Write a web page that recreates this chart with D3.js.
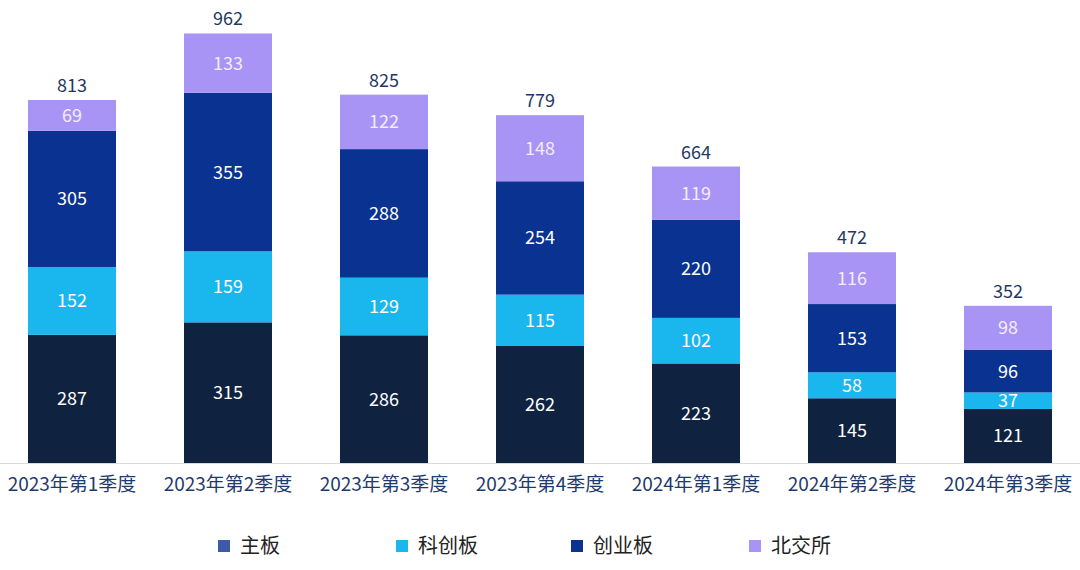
<!DOCTYPE html>
<html><head><meta charset="utf-8">
<script src="https://cdn.jsdelivr.net/npm/d3@7"></script>
<style>body{margin:0;background:#fff;}svg{display:block;font-family:"Noto Sans CJK SC","Noto Sans",sans-serif;}</style>
</head><body>
<svg id="c" width="1080" height="570"></svg>
<script>
const categories = ["2023年第1季度","2023年第2季度","2023年第3季度","2023年第4季度","2024年第1季度","2024年第2季度","2024年第3季度"];
const seriesNames = ["主板","科创板","创业板","北交所"];
const mainBoard = [287,315,286,262,223,145,121];
const star = [152,159,129,115,102,58,37];
const chinext = [305,355,288,254,220,153,96];
const bse = [69,133,122,148,119,116,98];
const totals = [813,962,825,779,664,472,352];

const barColors = ["#0f2340","#1ab6ee","#0a3290","#a894f4"];
const legendColors = ["#3d5aa8","#1ab6ee","#0a3290","#a894f4"];
const labelColors = ["#ffffff","#ffffff","#ffffff","#f3ecff"];

const svg = d3.select("#c");
const x = d3.scaleBand().domain(categories).range([-6,1086]).paddingInner(0.436).paddingOuter(0.218);
const y = d3.scaleLinear().domain([0,1000]).range([463,16.5]);

const data = categories.map((c,i)=>({cat:c,"主板":mainBoard[i],"科创板":star[i],"创业板":chinext[i],"北交所":bse[i]}));
const stacked = d3.stack().keys(seriesNames)(data);

stacked.forEach((s,si)=>{
  const g = svg.append("g");
  g.selectAll("rect").data(s).enter().append("rect")
    .attr("x",d=>x(d.data.cat)).attr("width",x.bandwidth())
    .attr("y",d=>y(d[1])).attr("height",d=>y(d[0])-y(d[1]))
    .attr("fill",barColors[si]);
  g.selectAll("text").data(s).enter().append("text")
    .attr("x",d=>x(d.data.cat)+x.bandwidth()/2)
    .attr("y",d=>(y(d[0])+y(d[1]))/2)
    .attr("dy","0.36em").attr("text-anchor","middle")
    .attr("font-size",18).attr("fill",labelColors[si])
    .text(d=>d[1]-d[0]);
});

svg.append("g").selectAll("text").data(categories).enter().append("text")
  .attr("x",c=>x(c)+x.bandwidth()/2)
  .attr("y",(c,i)=>y(totals[i])-8)
  .attr("text-anchor","middle").attr("font-size",18).attr("fill","#1f3864")
  .text((c,i)=>totals[i]);

// axis
const xAxis = d3.axisBottom(x).tickSize(0).tickPadding(15);
const ax = svg.append("g").attr("transform","translate(0,463)").call(xAxis);
ax.select(".domain").attr("stroke","#d9d9d9").attr("d","M0,0.5H1080");
ax.selectAll("text").attr("font-size",19).attr("fill","#1f3a6e").attr("font-family","Noto Sans CJK SC");

// legend
const legX = [218,396,571,749];
const lg = svg.append("g");
seriesNames.forEach((n,i)=>{
  lg.append("rect").attr("x",legX[i]).attr("y",540).attr("width",12).attr("height",12).attr("fill",legendColors[i]);
  lg.append("text").attr("x",legX[i]+22).attr("y",546).attr("dy","0.36em")
    .attr("font-size",20).attr("fill","#222").text(n);
});
</script>
</body></html>
